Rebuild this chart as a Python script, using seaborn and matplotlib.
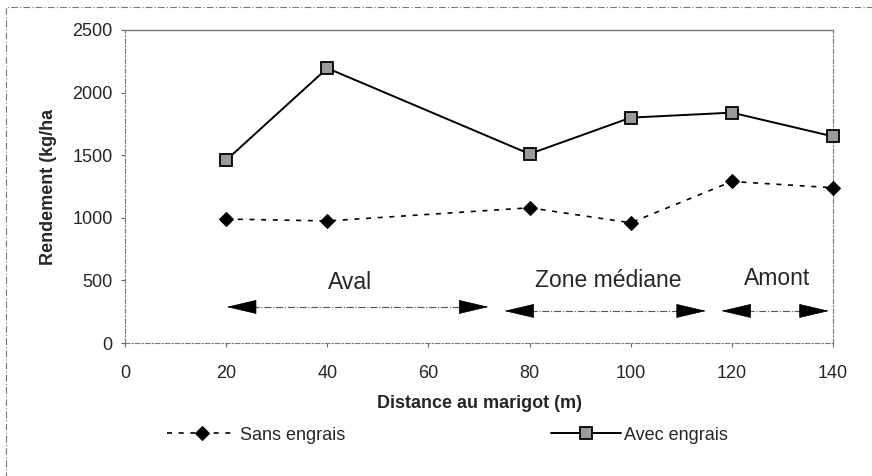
import matplotlib
matplotlib.use('Agg')
import matplotlib.pyplot as plt
import seaborn as sns
import pandas as pd

# data
distance = [20, 40, 80, 100, 120, 140]
sans_engrais = [990, 975, 1080, 960, 1290, 1240]
avec_engrais = [1460, 2195, 1510, 1800, 1840, 1650]

zones = ['Aval', 'Zone médiane', 'Amont']
zone_start = [20.1, 75.0, 117.9]
zone_end = [71.9, 114.9, 139.2]
zone_arrow_y = [288, 256, 256]
zone_label_x = [44.4, 95.6, 129]
zone_label_y = [487, 503, 519]

sns.set_style('white')
plt.rcParams['font.family'] = ['Liberation Sans', 'DejaVu Sans']

df = pd.DataFrame({'Distance': distance, 'Sans engrais': sans_engrais,
                   'Avec engrais': avec_engrais})

fig = plt.figure(figsize=(8.72, 4.76), dpi=100)
ax = fig.add_axes([125 / 872, 1 - 343 / 476, (833 - 125) / 872, (343 - 30) / 476])

sns.lineplot(data=df, x='Distance', y='Sans engrais', ax=ax, color='black',
             linestyle=(0, (3, 4)), linewidth=1.2, marker='D', markersize=7,
             markerfacecolor='black', markeredgecolor='black', label='Sans engrais',
             clip_on=False, zorder=5)
sns.lineplot(data=df, x='Distance', y='Avec engrais', ax=ax, color='black',
             linestyle='-', linewidth=1.4, marker='s', markersize=8,
             markerfacecolor='#9a9a9a', markeredgecolor='black', markeredgewidth=1.3,
             label='Avec engrais', clip_on=False, zorder=5)

# zone arrows
for name, x0, x1, y, lx, ly in zip(zones, zone_start, zone_end, zone_arrow_y,
                                   zone_label_x, zone_label_y):
    ax.plot([x0 + 5, x1 - 5], [y, y], color='#555555', linestyle='-.', linewidth=0.8)
    for tip, base in [(x0, x0 + 5.8), (x1, x1 - 5.8)]:
        ax.annotate('', xy=(tip, y), xytext=(base, y),
                    arrowprops=dict(arrowstyle='-|>,head_length=2.0,head_width=0.47',
                                    color='black', lw=0.5, shrinkA=0, shrinkB=0,
                                    mutation_scale=10), annotation_clip=False)
    ax.text(lx, ly, name, ha='center', va='center', fontsize=16.5)

ax.set_xlim(0, 140)
ax.set_ylim(0, 2500)
ax.set_xticks(range(0, 141, 20))
ax.set_yticks(range(0, 2501, 500))
ax.tick_params(axis='both', labelsize=13, length=3, direction='out', color='#666666',
               bottom=True, left=True)
ax.tick_params(axis='x', pad=13)
ax.tick_params(axis='y', pad=6)
ax.set_xlabel('Distance au marigot (m)', fontsize=13, fontweight='bold', labelpad=9)
ax.set_ylabel('Rendement (kg/ha', fontsize=13, fontweight='bold', labelpad=11)

for side in ['left', 'bottom', 'right']:
    ax.spines[side].set_linestyle((0, (4, 2, 1, 2)))
    ax.spines[side].set_color('#777777')
    ax.spines[side].set_linewidth(0.8)
ax.spines['top'].set_color('#777777')
ax.spines['top'].set_linewidth(1.0)

ax.legend(loc='center', bbox_to_anchor=(0.455, -0.294), ncol=2,
          frameon=False, fontsize=13, columnspacing=11.4, handlelength=3.9,
          handletextpad=0.15)

# outer chart frame (runs off the right and bottom of the image)
frame = plt.Rectangle((6 / 872, -0.05), 1.0, 1 - 7 / 476 + 0.05,
                      transform=fig.transFigure, fill=False, edgecolor='#777777',
                      linewidth=0.8, linestyle=(0, (6, 2, 1, 2)))
fig.patches.append(frame)

fig.savefig('out.png', dpi=100)
